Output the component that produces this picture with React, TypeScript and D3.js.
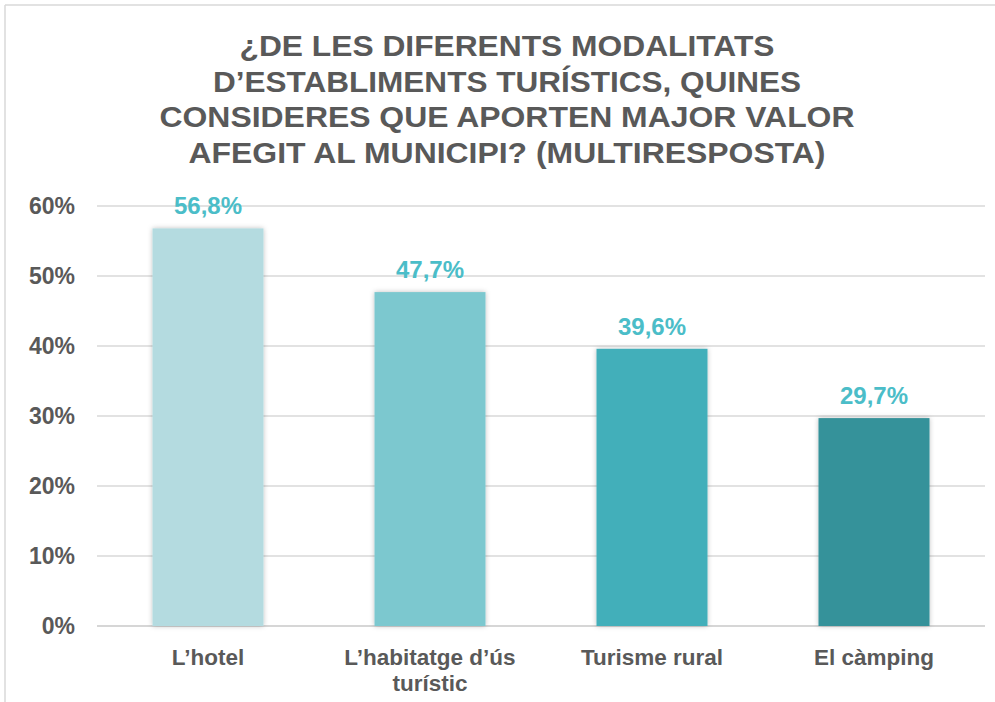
import React from "react";
import * as d3 from "d3";

const titleLines = [
  "¿DE LES DIFERENTS MODALITATS",
  "D’ESTABLIMENTS TURÍSTICS, QUINES",
  "CONSIDERES QUE APORTEN MAJOR VALOR",
  "AFEGIT AL MUNICIPI? (MULTIRESPOSTA)",
];
const titleWidths = [535, 588, 695, 637];
const categories = ["L’hotel", "L’habitatge d’ús turístic", "Turisme rural", "El càmping"];
const categoryLines = [["L’hotel"], ["L’habitatge d’ús", "turístic"], ["Turisme rural"], ["El càmping"]];
const values = [56.8, 47.7, 39.6, 29.7];
const valueLabels = ["56,8%", "47,7%", "39,6%", "29,7%"];
const barColors = ["#b4dbe0", "#7cc8cf", "#42afba", "#35929a"];
const yTicks = [0, 10, 20, 30, 40, 50, 60];

const W = 995;
const H = 702;

export default function App() {
  const x = d3.scaleBand<string>().domain(categories).range([97, 985]).paddingInner(0.5).paddingOuter(0.25);
  const y = d3.scaleLinear().domain([0, 60]).range([626, 206]);
  const font = "'Liberation Sans', Arial, sans-serif";
  return (
    <svg width={W} height={H} style={{ position: "absolute", left: 0, top: 0, display: "block" }} fontFamily={font}>
      <defs>
        <filter id="shadow" x="-20%" y="-20%" width="140%" height="140%">
          <feDropShadow dx="0" dy="0" stdDeviation="2.5" floodColor="#000" floodOpacity="0.25" />
        </filter>
      </defs>
      <rect x={0} y={0} width={W} height={H} fill="#fff" />
      <line x1={5} x2={W} y1={5} y2={5} stroke="#d9d9d9" strokeWidth={1.5} />
      <line x1={5} x2={5} y1={5} y2={H} stroke="#d9d9d9" strokeWidth={1.5} />
      {titleLines.map((t, i) => (
        <text
          key={i}
          x={507}
          y={56 + i * 35.7}
          textAnchor="middle"
          fontSize={29}
          fontWeight="bold"
          fill="#595959"
          textLength={titleWidths[i]}
          lengthAdjust="spacingAndGlyphs"
        >
          {t}
        </text>
      ))}
      {yTicks.map((t) => (
        <g key={t}>
          <line x1={97} x2={985} y1={y(t)} y2={y(t)} stroke={t === 0 ? "#c8c8c8" : "#d9d9d9"} strokeWidth={1.5} />
          <text x={75} y={y(t) + 8} textAnchor="end" fontSize={23} fontWeight="bold" fill="#595959">
            {t}%
          </text>
        </g>
      ))}
      {categories.map((c, i) => (
        <g key={c}>
          <rect
            x={x(c)!}
            y={y(values[i])}
            width={x.bandwidth()}
            height={y(0) - y(values[i])}
            fill={barColors[i]}
            filter="url(#shadow)"
          />
          <text
            x={x(c)! + x.bandwidth() / 2}
            y={y(values[i]) - 14}
            textAnchor="middle"
            fontSize={24}
            fontWeight="bold"
            fill="#4bbdc8"
          >
            {valueLabels[i]}
          </text>
          {categoryLines[i].map((l, j) => (
            <text
              key={j}
              x={x(c)! + x.bandwidth() / 2}
              y={665 + j * 26}
              textAnchor="middle"
              fontSize={22.5}
              fontWeight="bold"
              fill="#595959"
            >
              {l}
            </text>
          ))}
        </g>
      ))}
    </svg>
  );
}
